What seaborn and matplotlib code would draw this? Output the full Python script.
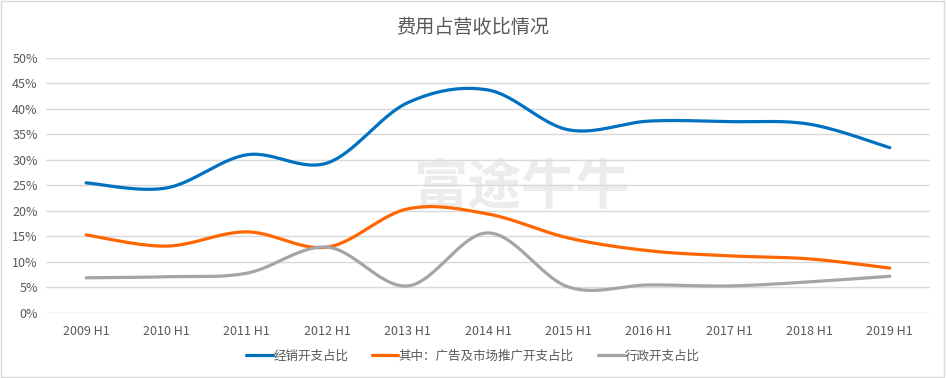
import numpy as np
import pandas as pd
import matplotlib.pyplot as plt
import seaborn as sns

# chart data (percent)
periods = ['2009 H1', '2010 H1', '2011 H1', '2012 H1', '2013 H1', '2014 H1',
           '2015 H1', '2016 H1', '2017 H1', '2018 H1', '2019 H1']
selling = [25.5, 24.5, 31.0, 29.4, 41.2, 43.7, 35.9, 37.6, 37.5, 37.0, 32.4]
advertising = [15.3, 13.1, 15.9, 12.9, 20.4, 19.4, 14.7, 12.2, 11.2, 10.6, 8.8]
admin = [6.9, 7.1, 7.8, 12.9, 5.3, 15.7, 5.1, 5.5, 5.3, 6.1, 7.2]

series_names = ['经销开支占比', '其中：广告及市场推广开支占比', '行政开支占比']
colors = ['#0070C0', '#FF6600', '#A5A5A5']


def smooth(values, steps=30):
    # Excel-like smoothed line (Catmull-Rom as cubic Bezier) for drawing only
    y = np.asarray(values, dtype=float)
    x = np.arange(len(y), dtype=float)
    xs, ys = [], []
    for i in range(len(y) - 1):
        p0 = np.array([x[max(i - 1, 0)], y[max(i - 1, 0)]])
        p1 = np.array([x[i], y[i]])
        p2 = np.array([x[i + 1], y[i + 1]])
        p3 = np.array([x[min(i + 2, len(y) - 1)], y[min(i + 2, len(y) - 1)]])
        c1 = p1 + (p2 - p0) / 6
        c2 = p2 - (p3 - p1) / 6
        t = np.linspace(0, 1, steps, endpoint=(i == len(y) - 2))[:, None]
        pts = ((1 - t) ** 3) * p1 + 3 * ((1 - t) ** 2) * t * c1 + 3 * (1 - t) * t ** 2 * c2 + t ** 3 * p2
        xs.extend(pts[:, 0])
        ys.extend(pts[:, 1])
    return xs, ys


frames = []
for name, vals in zip(series_names, [selling, advertising, admin]):
    sx, sy = smooth(vals)
    frames.append(pd.DataFrame({'x': sx, 'y': sy, 'series': name}))
df = pd.concat(frames, ignore_index=True)

sns.set_style('white')
plt.rcParams['font.family'] = ['Noto Sans CJK SC', 'DejaVu Sans']

fig = plt.figure(figsize=(9.46, 3.78), dpi=100)
ax = fig.add_axes([0.0486, 0.172, 0.9345, 0.675])

# watermark
ax.text(5.42, 24.3, '富途牛牛', fontsize=39, color='#ececec', ha='center', va='center',
        fontweight='bold', zorder=0)

sns.lineplot(data=df, x='x', y='y', hue='series', palette=colors, sort=False,
             estimator=None, linewidth=2.3, ax=ax, legend=False, zorder=3)

ax.set_xlim(-0.5, len(periods) - 0.5)
ax.set_ylim(0, 50)
ax.set_xticks(range(len(periods)))
ax.set_xticklabels(periods)
ax.set_yticks(np.arange(0, 51, 5))
ax.set_yticklabels([f'{v}%' for v in range(0, 51, 5)])
ax.tick_params(axis='both', labelsize=9, colors='#595959', length=0)
ax.tick_params(axis='x', pad=9)
ax.tick_params(axis='y', pad=6)
ax.set_xlabel('')
ax.set_ylabel('')
ax.grid(axis='y', color='#d9d9d9', linewidth=1)
ax.set_axisbelow(True)
for s in ax.spines.values():
    s.set_visible(False)

fig.suptitle('费用占营收比情况', x=0.5, y=0.955, fontsize=13.8, color='#595959')

handles = [plt.Line2D([], [], color=c, linewidth=2.3) for c in colors]
fig.legend(handles, series_names, loc='center', bbox_to_anchor=(0.5, 0.058), ncol=3,
           frameon=False, fontsize=9, handlelength=2.1, handletextpad=0.05,
           columnspacing=1.9, labelcolor='#595959')

# outer border
fig.patches.append(plt.Rectangle((0.001, 0.003), 0.997, 0.994, transform=fig.transFigure,
                                 fill=False, edgecolor='#d9d9d9', linewidth=1))

fig.savefig('out.png', dpi=100)
